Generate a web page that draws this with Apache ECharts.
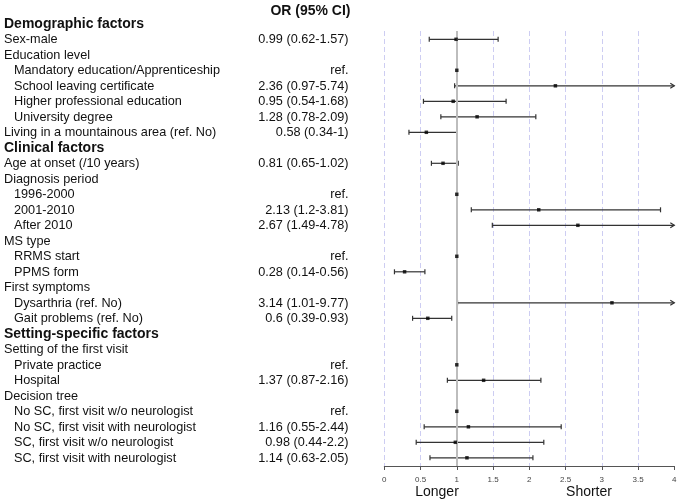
<!DOCTYPE html>
<html><head><meta charset="utf-8">
<script src="https://cdn.jsdelivr.net/npm/echarts@6/dist/echarts.min.js"></script>
<style>html,body{margin:0;padding:0;background:#fff}#c{width:680px;height:504px}</style>
</head><body><div id="c"></div>
<script>
const rowLabels = ["Demographic factors","Sex-male","Education level","Mandatory education/Apprenticeship","School leaving certificate","Higher professional education","University degree","Living in a mountainous area (ref. No)","Clinical factors","Age at onset (/10 years)","Diagnosis period","1996-2000","2001-2010","After 2010","MS type","RRMS start","PPMS form","First symptoms","Dysarthria (ref. No)","Gait problems (ref. No)","Setting-specific factors","Setting of the first visit","Private practice","Hospital","Decision tree","No SC, first visit w/o neurologist","No SC, first visit with neurologist","SC, first visit w/o neurologist","SC, first visit with neurologist"];
const indentLevel = [0,0,0,1,1,1,1,0,0,0,0,1,1,1,0,1,1,0,1,1,0,0,1,1,0,1,1,1,1];
const isHeader = [1,0,0,0,0,0,0,0,1,0,0,0,0,0,0,0,0,0,0,0,1,0,0,0,0,0,0,0,0];
const orText = ["","0.99 (0.62-1.57)","","ref.","2.36 (0.97-5.74)","0.95 (0.54-1.68)","1.28 (0.78-2.09)","0.58 (0.34-1)","","0.81 (0.65-1.02)","","ref.","2.13 (1.2-3.81)","2.67 (1.49-4.78)","","ref.","0.28 (0.14-0.56)","","3.14 (1.01-9.77)","0.6 (0.39-0.93)","","","ref.","1.37 (0.87-2.16)","","ref.","1.16 (0.55-2.44)","0.98 (0.44-2.2)","1.14 (0.63-2.05)"];
const orValue = [null,0.99,null,1,2.36,0.95,1.28,0.58,null,0.81,null,1,2.13,2.67,null,1,0.28,null,3.14,0.6,null,null,1,1.37,null,1,1.16,0.98,1.14];
const ciLow = [null,0.62,null,null,0.97,0.54,0.78,0.34,null,0.65,null,null,1.2,1.49,null,null,0.14,null,1.01,0.39,null,null,null,0.87,null,null,0.55,0.44,0.63];
const ciHigh = [null,1.57,null,null,5.74,1.68,2.09,1,null,1.02,null,null,3.81,4.78,null,null,0.56,null,9.77,0.93,null,null,null,2.16,null,null,2.44,2.2,2.05];
const xTicks = [0,0.5,1,1.5,2,2.5,3,3.5,4];
const axisMax = 4;

const FONT = "'Liberation Sans', Arial, sans-serif";
const labelData = rowLabels.map((l,i)=>[0,i]);
const barData = [];
const pointData = [];
rowLabels.forEach((l,i)=>{
  if (ciLow[i] !== null) barData.push([ciLow[i], i, ciHigh[i]]);
  if (orValue[i] !== null) pointData.push([orValue[i], i]);
});

const chart = echarts.init(document.getElementById('c'), null, {renderer:'canvas'});
chart.setOption({
  animation:false,
  backgroundColor:'#fff',
  grid:{left:384.3, right:5.7, top:31, bottom:38, containLabel:false},
  xAxis:{type:'value', min:0, max:axisMax, interval:0.5,
    axisLine:{show:true, lineStyle:{color:'#555', width:1}},
    axisTick:{show:true, inside:false, length:4, lineStyle:{color:'#555'}},
    axisLabel:{fontSize:8, color:'#444', margin:10, fontFamily:FONT,
      formatter:v=>{const t=xTicks.find(x=>Math.abs(x-v)<1e-9);return t===undefined?'':String(t);}},
    splitLine:{show:true, showMinLine:true, showMaxLine:false, lineStyle:{color:'#cdcdf2', type:[5,3], width:1}}
  },
  yAxis:{type:'value', inverse:true, min:0.4645, max:28.529, show:false, splitLine:{show:false}},
  graphic:[
    {type:'text', x:350.5, y:11, style:{text:'OR (95% CI)', font:'bold 14px '+FONT, fill:'#111', textAlign:'right', textVerticalAlign:'middle'}},
    {type:'text', x:437, y:492, style:{text:'Longer', font:'14px '+FONT, fill:'#111', textAlign:'center', textVerticalAlign:'middle'}},
    {type:'text', x:589, y:492, style:{text:'Shorter', font:'14px '+FONT, fill:'#111', textAlign:'center', textVerticalAlign:'middle'}}
  ],
  series:[
    {type:'custom', name:'labels', clip:false, silent:true, data:labelData,
      encode:{x:0,y:1},
      renderItem:(params, api)=>{
        const i = params.dataIndex;
        const y = api.coord([0, i])[1];
        const children = [];
        const b = isHeader[i];
        children.push({type:'text', style:{x:4+indentLevel[i]*10, y:y+0.5, text:rowLabels[i],
          font:(b?'bold 14px ':'12.7px ')+FONT, fill:'#111', textAlign:'left', textVerticalAlign:'middle'}});
        if (orText[i]) children.push({type:'text', style:{x:348.5, y:y+0.5, text:orText[i],
          font:'12.7px '+FONT, fill:'#111', textAlign:'right', textVerticalAlign:'middle'}});
        return {type:'group', children};
      }
    },
    {type:'custom', name:'ci', clip:false, silent:true, data:barData,
      encode:{x:[0,2], y:1},
      renderItem:(params, api)=>{
        const lo = api.value(0), r = api.value(1), hi = api.value(2);
        const p1 = api.coord([lo, r]);
        const clipped = hi > axisMax;
        const p2 = api.coord([Math.min(hi, axisMax), r]);
        const st = {stroke:'#333', lineWidth:1.2};
        const ch = [
          {type:'line', shape:{x1:p1[0], y1:p1[1], x2:p2[0], y2:p2[1]}, style:st},
          {type:'line', shape:{x1:p1[0], y1:p1[1]-2.5, x2:p1[0], y2:p1[1]+2.5}, style:st}
        ];
        if (clipped) {
          ch.push({type:'polyline', shape:{points:[[p2[0]-4,p2[1]-2.5],[p2[0],p2[1]],[p2[0]-4,p2[1]+2.5]]}, style:{stroke:'#333', lineWidth:1.2, fill:null}});
        } else {
          ch.push({type:'line', shape:{x1:p2[0], y1:p2[1]-2.5, x2:p2[0], y2:p2[1]+2.5}, style:st});
        }
        return {type:'group', children:ch};
      }
    },
    {type:'scatter', name:'OR', data:pointData, symbol:'rect', symbolSize:3.5,
      itemStyle:{color:'#000'}, z:5, silent:true,
      markLine:{silent:true, symbol:'none', label:{show:false},
        lineStyle:{color:'#bdbdbd', width:2, type:'solid'},
        data:[{xAxis:1}]}
    }
  ]
});
</script></body></html>
